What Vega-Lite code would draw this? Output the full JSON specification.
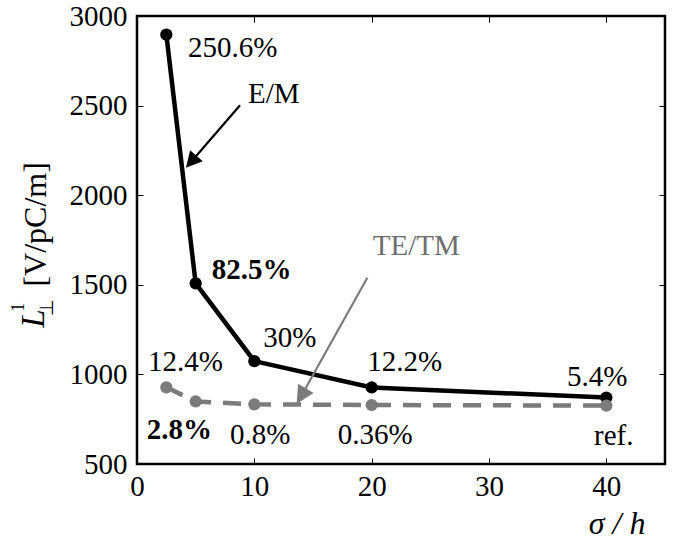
{
  "$schema": "https://vega.github.io/schema/vega-lite/v6.json",
  "width": 528,
  "height": 448,
  "autosize": "none",
  "padding": {"left": 137, "top": 16, "right": 11, "bottom": 77},
  "background": "white",
  "config": {
    "font": "Liberation Serif",
    "text": {"font": "Liberation Serif"},
    "view": {"stroke": "black", "strokeWidth": 2.5},
    "axis": {
      "grid": false,
      "domain": false,
      "labelFont": "Liberation Serif",
      "labelFontSize": 29,
      "labelColor": "black",
      "labelFlush": false,
      "format": "d",
      "tickColor": "black",
      "tickWidth": 1,
      "tickSize": -6,
      "titleFont": "Liberation Serif",
      "titleColor": "black"
    }
  },
  "datasets": {
    "curves": [
      {"s": 2.5, "L": 2896, "mode": "E/M"},
      {"s": 5, "L": 1508, "mode": "E/M"},
      {"s": 10, "L": 1074, "mode": "E/M"},
      {"s": 20, "L": 927, "mode": "E/M"},
      {"s": 40, "L": 871, "mode": "E/M"},
      {"s": 2.5, "L": 928, "mode": "TE/TM"},
      {"s": 5, "L": 849, "mode": "TE/TM"},
      {"s": 10, "L": 833, "mode": "TE/TM"},
      {"s": 20, "L": 829, "mode": "TE/TM"},
      {"s": 40, "L": 826, "mode": "TE/TM"}
    ],
    "labels": [
      {"s": 4.35, "L": 2821, "text": "250.6%", "kind": "plain"},
      {"s": 9.46, "L": 2564, "text": "E/M", "kind": "plain"},
      {"s": 6.37, "L": 1581, "text": "82.5%", "kind": "bold"},
      {"s": 10.76, "L": 1203, "text": "30%", "kind": "plain"},
      {"s": 0.93, "L": 1068, "text": "12.4%", "kind": "plain"},
      {"s": 19.63, "L": 1070, "text": "12.2%", "kind": "plain"},
      {"s": 36.65, "L": 985, "text": "5.4%", "kind": "plain"},
      {"s": 20.09, "L": 1715, "text": "TE/TM", "kind": "gray"},
      {"s": 0.83, "L": 690, "text": "2.8%", "kind": "bold"},
      {"s": 7.93, "L": 662, "text": "0.8%", "kind": "plain"},
      {"s": 17.1, "L": 662, "text": "0.36%", "kind": "plain"},
      {"s": 38.95, "L": 657, "text": "ref.", "kind": "plain"}
    ],
    "arrows": [
      {"s": 8.78, "L": 2502, "s2": 4.62, "L2": 2187, "mode": "E/M"},
      {"s": 19.63, "L": 1539, "s2": 14.0, "L2": 879, "mode": "TE/TM"}
    ],
    "ytitle": [
      {"s": -8.61, "L": 1490, "text": "[V/pC/m]", "part": "unit"},
      {"s": -8.78, "L": 1261, "text": "L", "part": "symbol"},
      {"s": -10.1, "L": 1375, "text": "1", "part": "script"},
      {"s": -7.63, "L": 1375, "text": "⊥", "part": "script"}
    ]
  },
  "layer": [
    {
      "data": {"name": "curves"},
      "transform": [{"filter": "datum.mode === 'E/M'"}],
      "mark": {"type": "line", "color": "black", "strokeWidth": 4.5},
      "encoding": {
        "x": {
          "field": "s", "type": "quantitative",
          "scale": {"domain": [0, 45], "nice": false, "zero": false},
          "axis": {"orient": "bottom", "values": [0, 10, 20, 30, 40], "labelPadding": 14, "title": "σ / h", "titleFontStyle": "italic", "titleFontWeight": "normal", "titleFontSize": 32, "titleAlign": "right", "titleBaseline": "alphabetic", "titleAnchor": "end", "titleX": 508, "titleY": 69}
        },
        "y": {
          "field": "L", "type": "quantitative",
          "scale": {"domain": [500, 3000], "nice": false, "zero": false},
          "axis": {"orient": "left", "values": [500, 1000, 1500, 2000, 2500, 3000], "labelPadding": 16, "title": null}
        }
      }
    },
    {
      "data": {"name": "curves"},
      "transform": [{"filter": "datum.mode === 'TE/TM'"}],
      "mark": {"type": "line", "color": "#7b7b7b", "strokeWidth": 4.5, "strokeDash": [18, 12]},
      "encoding": {
        "x": {
          "field": "s", "type": "quantitative",
          "scale": {"domain": [0, 45], "nice": false, "zero": false},
          "axis": {"orient": "top", "values": [0, 10, 20, 30, 40], "labels": false, "title": null}
        },
        "y": {
          "field": "L", "type": "quantitative",
          "scale": {"domain": [500, 3000], "nice": false, "zero": false},
          "axis": {"orient": "right", "values": [500, 1000, 1500, 2000, 2500, 3000], "labels": false, "title": null}
        }
      }
    },
    {
      "data": {"name": "curves"},
      "mark": {"type": "point", "filled": true, "opacity": 1, "size": 150, "shape": "circle"},
      "encoding": {
        "x": {"field": "s", "type": "quantitative", "scale": {"domain": [0, 45], "nice": false, "zero": false}, "axis": null},
        "y": {"field": "L", "type": "quantitative", "scale": {"domain": [500, 3000], "nice": false, "zero": false}, "axis": null},
        "color": {"field": "mode", "type": "nominal", "scale": {"domain": ["E/M", "TE/TM"], "range": ["black", "#7b7b7b"]}, "legend": null}
      }
    },
    {
      "data": {"name": "arrows"},
      "mark": {"type": "rule", "strokeWidth": 2.2},
      "encoding": {
        "x": {"field": "s", "type": "quantitative", "scale": {"domain": [0, 45], "nice": false, "zero": false}, "axis": null},
        "y": {"field": "L", "type": "quantitative", "scale": {"domain": [500, 3000], "nice": false, "zero": false}, "axis": null},
        "x2": {"field": "s2"},
        "y2": {"field": "L2"},
        "color": {"field": "mode", "type": "nominal", "scale": {"domain": ["E/M", "TE/TM"], "range": ["black", "#7b7b7b"]}, "legend": null}
      }
    },
    {
      "data": {"name": "arrows"},
      "transform": [{"filter": "datum.mode === 'E/M'"}],
      "mark": {"type": "point", "filled": true, "opacity": 1, "color": "black", "shape": "M0,-1L-1.05,1L1.05,1Z", "size": 256, "angle": 220.9},
      "encoding": {
        "x": {"field": "s2", "type": "quantitative", "scale": {"domain": [0, 45], "nice": false, "zero": false}, "axis": null},
        "y": {"field": "L2", "type": "quantitative", "scale": {"domain": [500, 3000], "nice": false, "zero": false}, "axis": null}
      }
    },
    {
      "data": {"name": "arrows"},
      "transform": [{"filter": "datum.mode === 'TE/TM'"}],
      "mark": {"type": "point", "filled": true, "opacity": 1, "color": "#7b7b7b", "shape": "M0,-1L-1,1L1,1Z", "size": 324, "angle": 210.6},
      "encoding": {
        "x": {"field": "s2", "type": "quantitative", "scale": {"domain": [0, 45], "nice": false, "zero": false}, "axis": null},
        "y": {"field": "L2", "type": "quantitative", "scale": {"domain": [500, 3000], "nice": false, "zero": false}, "axis": null}
      }
    },
    {
      "data": {"name": "labels"},
      "transform": [{"filter": "datum.kind === 'plain'"}],
      "mark": {"type": "text", "font": "Liberation Serif", "align": "left", "baseline": "middle", "fontSize": 29, "color": "black"},
      "encoding": {
        "x": {"field": "s", "type": "quantitative", "scale": {"domain": [0, 45], "nice": false, "zero": false}, "axis": null},
        "y": {"field": "L", "type": "quantitative", "scale": {"domain": [500, 3000], "nice": false, "zero": false}, "axis": null},
        "text": {"field": "text"}
      }
    },
    {
      "data": {"name": "labels"},
      "transform": [{"filter": "datum.kind === 'bold'"}],
      "mark": {"type": "text", "font": "Liberation Serif", "align": "left", "baseline": "middle", "fontSize": 29, "fontWeight": "bold", "color": "black"},
      "encoding": {
        "x": {"field": "s", "type": "quantitative", "scale": {"domain": [0, 45], "nice": false, "zero": false}, "axis": null},
        "y": {"field": "L", "type": "quantitative", "scale": {"domain": [500, 3000], "nice": false, "zero": false}, "axis": null},
        "text": {"field": "text"}
      }
    },
    {
      "data": {"name": "labels"},
      "transform": [{"filter": "datum.kind === 'gray'"}],
      "mark": {"type": "text", "font": "Liberation Serif", "align": "left", "baseline": "middle", "fontSize": 29, "color": "#6e6e6e"},
      "encoding": {
        "x": {"field": "s", "type": "quantitative", "scale": {"domain": [0, 45], "nice": false, "zero": false}, "axis": null},
        "y": {"field": "L", "type": "quantitative", "scale": {"domain": [500, 3000], "nice": false, "zero": false}, "axis": null},
        "text": {"field": "text"}
      }
    },
    {
      "data": {"name": "ytitle"},
      "transform": [{"filter": "datum.part === 'unit'"}],
      "mark": {"type": "text", "font": "Liberation Serif", "align": "left", "baseline": "middle", "angle": 270, "fontSize": 32, "color": "black"},
      "encoding": {
        "x": {"field": "s", "type": "quantitative", "scale": {"domain": [0, 45], "nice": false, "zero": false}, "axis": null},
        "y": {"field": "L", "type": "quantitative", "scale": {"domain": [500, 3000], "nice": false, "zero": false}, "axis": null},
        "text": {"field": "text"}
      }
    },
    {
      "data": {"name": "ytitle"},
      "transform": [{"filter": "datum.part === 'symbol'"}],
      "mark": {"type": "text", "font": "Liberation Serif", "align": "left", "baseline": "middle", "angle": 270, "fontSize": 33, "fontStyle": "italic", "color": "black"},
      "encoding": {
        "x": {"field": "s", "type": "quantitative", "scale": {"domain": [0, 45], "nice": false, "zero": false}, "axis": null},
        "y": {"field": "L", "type": "quantitative", "scale": {"domain": [500, 3000], "nice": false, "zero": false}, "axis": null},
        "text": {"field": "text"}
      }
    },
    {
      "data": {"name": "ytitle"},
      "transform": [{"filter": "datum.part === 'script'"}],
      "mark": {"type": "text", "font": "Liberation Serif", "align": "center", "baseline": "middle", "angle": 270, "fontSize": 19, "color": "black"},
      "encoding": {
        "x": {"field": "s", "type": "quantitative", "scale": {"domain": [0, 45], "nice": false, "zero": false}, "axis": null},
        "y": {"field": "L", "type": "quantitative", "scale": {"domain": [500, 3000], "nice": false, "zero": false}, "axis": null},
        "text": {"field": "text"}
      }
    }
  ],
  "resolve": {"axis": {"x": "independent", "y": "independent"}}
}
